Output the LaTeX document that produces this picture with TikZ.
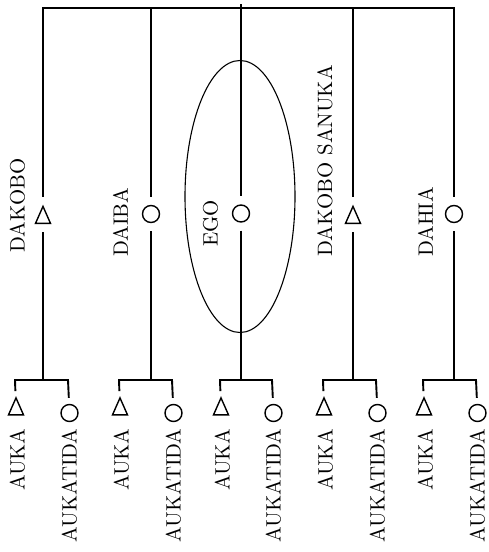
\documentclass[tikz,border=0pt]{standalone}
\usepackage{fontspec}
\usetikzlibrary{shapes.geometric}
\begin{document}
\begin{tikzpicture}[x=1pt,y=-1pt,
  kin/.style={line width=1.9pt},
  gapa/.style={kin, shorten >=8pt},
  gapb/.style={kin, shorten <=8pt},
  stub/.style={kin, shorten <=6pt, shorten >=6pt},
  male/.style={draw, line width=1.4pt, isosceles triangle, isosceles triangle stretches,
    shape border rotate=90, minimum width=15pt, minimum height=17pt, inner sep=0pt},
  female/.style={draw, line width=1.4pt, circle, minimum size=17pt, inner sep=0pt},
  lbl/.style={rotate=90, scale=2.08, inner sep=0pt, font=\fontsize{10}{12}\selectfont},
  oval/.style={draw, line width=1.1pt, ellipse, minimum width=110pt, minimum height=272pt, inner sep=0pt}
]
\useasboundingbox (0,0) rectangle (489,552);

% ego oval
\node[oval] (egooval) at (240,196.5) {};

% top line
\coordinate (t1) at (43,8);
\coordinate (t2) at (151,8);
\coordinate (t3) at (241,4);
\coordinate (t4) at (353,8);
\coordinate (t5) at (454,8);
\draw[kin, line cap=rect] (t1) -- (t5);

% parent-generation symbols
\node[male] (p1) at (43,218.5) {};
\node[female] (p2) at (151,214) {};
\node[female] (p3) at (241,213.5) {};
\node[male] (p4) at (353,218.5) {};
\node[female] (p5) at (454,214) {};

% labels
\node[lbl, anchor=west] (l1) at (17.5,253) {DAKOBO};
\node[lbl, anchor=west] (l2) at (120.5,257) {DAIBA};
\node[lbl, anchor=west] (l3) at (210.5,247) {EGO};
\node[lbl, anchor=west] (l4) at (325,257) {DAKOBO SANUKA};
\node[lbl, anchor=west] (l5) at (425.5,257) {DAHIA};

% sibling bars
\foreach \i/\x/\l/\r in {1/43/15/68, 2/151/119/172, 3/241/220/272, 4/353/323/376, 5/454/423/476}{
  \coordinate (b\i) at (\x,380);
  \coordinate (bl\i) at (\l,380);
  \coordinate (br\i) at (\r,380);
  \draw[gapa] (t\i) -- (p\i);
  \draw[gapb] (p\i) -- (b\i);
  \node[male] (s\i) at (\l+1,410) {};
  \node[female] (d\i) at (\r+1.5,413) {};
  \draw[stub, line join=miter] (s\i) -- (bl\i) -- (br\i) -- (d\i);
  \node[lbl, anchor=east] (sl\i) at (\l+2.5,428) {AUKA};
  \node[lbl, anchor=east] (dl\i) at (\r+1.5,428) {AUKATIDA};
}
\end{tikzpicture}
\end{document}
